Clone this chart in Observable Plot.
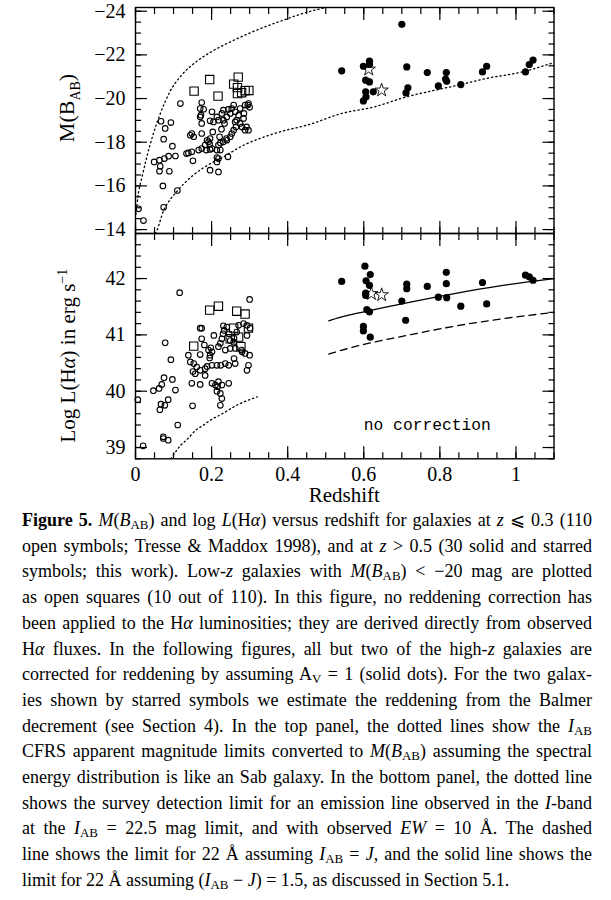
<!DOCTYPE html>
<html><head><meta charset="utf-8">
<script src="https://cdn.jsdelivr.net/npm/d3@7"></script>
<script src="https://cdn.jsdelivr.net/npm/@observablehq/plot@0.6"></script>
<style>
html,body{margin:0;padding:0;background:#fff;}
#chart{position:relative;width:611px;height:505px;}
#chart svg{position:absolute;left:0;top:0;}
#caption{position:absolute;left:22px;top:508px;width:570px;font-family:"Liberation Serif","Times New Roman",serif;font-size:18px;line-height:25.7px;color:#000;}
#caption .l{white-space:nowrap;text-align:justify;text-align-last:justify;}
#caption .last{text-align-last:left;}
#caption sub{font-size:0.72em;vertical-align:-0.22em;line-height:0;font-style:normal;}
</style></head>
<body>
<div id="chart"></div>
<div id="caption">
<div class="l"><b>Figure 5.</b> <i>M</i>(<i>B</i><sub>AB</sub>) and log <i>L</i>(H<i>α</i>) versus redshift for galaxies at <i>z</i> ⩽ 0.3 (110</div>
<div class="l">open symbols; Tresse &amp; Maddox 1998), and at <i>z</i> &gt; 0.5 (30 solid and starred</div>
<div class="l">symbols; this work). Low-<i>z</i> galaxies with <i>M</i>(<i>B</i><sub>AB</sub>) &lt; −20 mag are plotted</div>
<div class="l">as open squares (10 out of 110). In this figure, no reddening correction has</div>
<div class="l">been applied to the H<i>α</i> luminosities; they are derived directly from observed</div>
<div class="l">H<i>α</i> fluxes. In the following figures, all but two of the high-<i>z</i> galaxies are</div>
<div class="l">corrected for reddening by assuming A<sub>V</sub> = 1 (solid dots). For the two galax-</div>
<div class="l">ies shown by starred symbols we estimate the reddening from the Balmer</div>
<div class="l">decrement (see Section 4). In the top panel, the dotted lines show the <i>I</i><sub>AB</sub></div>
<div class="l">CFRS apparent magnitude limits converted to <i>M</i>(<i>B</i><sub>AB</sub>) assuming the spectral</div>
<div class="l">energy distribution is like an Sab galaxy. In the bottom panel, the dotted line</div>
<div class="l">shows the survey detection limit for an emission line observed in the <i>I</i>-band</div>
<div class="l">at the <i>I</i><sub>AB</sub> = 22.5 mag limit, and with observed <i>EW</i> = 10 Å. The dashed</div>
<div class="l">line shows the limit for 22 Å assuming <i>I</i><sub>AB</sub> = <i>J</i>, and the solid line shows the</div>
<div class="l last">limit for 22 Å assuming (<i>I</i><sub>AB</sub> − <i>J</i>) = 1.5, as discussed in Section 5.1.</div>
</div>
<script>
// ---------- axes ----------
const xMajor = [0, 0.2, 0.4, 0.6, 0.8, 1];
const xLabels = ["0", "0.2", "0.4", "0.6", "0.8", "1"];
const mMajor = [-24, -22, -20, -18, -16, -14];
const mLabels = ["−24", "−22", "−20", "−18", "−16", "−14"];
const lMajor = [39, 40, 41, 42];
const lLabels = ["39", "40", "41", "42"];
const xMinor = d3.range(0, 1.1001, 0.05);
const mMinor = d3.range(-24, -13.99, 0.5);
const lMinor = d3.range(38.8, 42.81, 0.2);

// ---------- top panel: [redshift, M(B_AB)] ----------
const topOpen = [
[0.008,-14.95],[0.021,-14.41],[0.074,-15.02],[0.072,-16.00],[0.110,-15.79],
[0.049,-17.10],[0.063,-17.18],[0.065,-16.90],[0.076,-17.25],[0.063,-16.67],[0.089,-16.67],[0.087,-17.36],
[0.074,-18.14],[0.078,-18.63],[0.067,-18.96],[0.093,-18.90],[0.097,-17.82],[0.105,-17.37],[0.118,-19.77],
[0.174,-19.82],[0.170,-19.54],[0.179,-19.51],[0.201,-19.39],[0.170,-19.16],[0.196,-18.98],[0.205,-18.93],[0.174,-18.86],
[0.214,-19.16],[0.218,-19.01],[0.227,-19.32],[0.231,-19.47],[0.244,-19.50],[0.253,-19.54],[0.258,-19.70],[0.249,-19.32],
[0.240,-19.16],[0.231,-19.01],[0.234,-18.86],[0.262,-19.39],[0.271,-19.24],[0.275,-19.54],[0.266,-19.01],[0.288,-19.70],
[0.297,-19.77],[0.285,-19.32],[0.284,-19.09],[0.262,-18.93],[0.275,-18.86],[0.280,-18.70],[0.297,-18.55],[0.288,-18.55],
[0.258,-18.55],[0.253,-18.40],[0.249,-18.25],[0.240,-18.09],[0.231,-18.02],[0.223,-17.97],[0.218,-17.87],[0.214,-17.64],
[0.223,-17.64],[0.214,-17.30],[0.218,-17.25],[0.214,-17.10],[0.196,-16.72],[0.218,-16.64],[0.186,-17.64],[0.196,-17.67],
[0.188,-18.09],[0.192,-18.02],[0.196,-18.17],[0.195,-17.91],[0.183,-17.87],[0.144,-18.32],[0.153,-18.25],[0.148,-18.40],
[0.174,-18.40],[0.166,-17.64],[0.174,-17.71],[0.148,-17.56],[0.139,-17.51],[0.151,-17.15],[0.201,-17.71],[0.221,-18.25],
[0.172,-19.24],[0.203,-18.47],[0.134,-17.48],[0.243,-17.33],[0.295,-19.70],[0.239,-18.17],
[0.264,-18.70],[0.292,-18.70],[0.300,-19.60],[0.226,-18.60]
];
const topSquares = [
[0.195,-20.87],[0.154,-20.34],[0.217,-20.11],[0.270,-20.98],[0.258,-20.66],
[0.268,-20.50],[0.268,-20.23],[0.279,-20.27],[0.288,-20.36],[0.298,-20.37]
];
const topSolid = [
[0.542,-21.27],[0.599,-21.48],[0.615,-21.71],[0.615,-21.56],[0.605,-20.84],[0.615,-20.76],
[0.605,-20.31],[0.625,-20.31],[0.606,-20.08],[0.599,-19.89],[0.700,-23.40],[0.713,-21.45],
[0.716,-20.49],[0.711,-20.26],[0.767,-21.19],[0.817,-21.19],[0.815,-20.89],[0.818,-20.79],
[0.796,-20.58],[0.855,-20.64],[0.912,-21.22],[0.923,-21.48],[1.025,-21.22],[1.035,-21.56],[1.045,-21.76]
];
const topStars = [[0.613,-21.34],[0.647,-20.38]];
const topLimitBright = [
[0.001,-14.7],[0.008,-15.7],[0.017,-16.4],[0.030,-17.35],[0.048,-18.45],[0.065,-19.3],[0.090,-20.3],
[0.120,-21.05],[0.157,-21.65],[0.200,-22.15],[0.250,-22.6],[0.300,-23.0],[0.382,-23.55],[0.450,-23.95],[0.500,-24.17]
];
const topLimitFaint = [
[0.052,-13.82],[0.056,-13.95],[0.074,-14.88],[0.090,-15.35],[0.109,-15.75],[0.130,-16.15],[0.153,-16.51],
[0.190,-16.95],[0.223,-17.25],[0.284,-17.86],[0.371,-18.43],[0.464,-18.85],[0.538,-19.3],[0.628,-19.62],
[0.713,-20.08],[0.792,-20.40],[0.855,-20.64],[0.914,-20.89],[1.023,-21.25],[1.1,-21.65]
];

// ---------- bottom panel: [redshift, log L(Halpha)] ----------
const bottomOpen = [
[0.116,41.75],[0.300,41.63],[0.078,40.86],[0.093,40.56],[0.047,40.01],[0.062,40.05],[0.069,40.12],[0.075,40.24],
[0.097,40.21],[0.105,40.02],[0.006,39.85],[0.064,39.67],[0.067,39.77],[0.077,39.75],[0.086,39.85],[0.111,39.40],
[0.073,39.19],[0.073,39.16],[0.086,39.13],[0.020,39.03],[0.150,39.74],
[0.170,41.12],[0.174,41.12],[0.231,41.16],[0.233,41.08],[0.230,41.02],[0.271,41.17],[0.284,41.20],[0.293,41.17],
[0.301,41.12],[0.240,41.14],[0.293,40.99],[0.174,40.93],[0.227,40.93],[0.249,40.90],[0.258,40.87],[0.181,40.82],
[0.198,40.77],[0.192,40.73],[0.201,40.70],[0.223,40.85],[0.218,40.79],[0.236,40.73],[0.249,40.76],[0.262,40.76],
[0.279,40.73],[0.288,40.67],[0.170,40.65],[0.196,40.64],[0.195,40.59],[0.139,40.64],[0.144,40.52],[0.153,40.49],
[0.161,40.43],[0.170,40.37],[0.183,40.40],[0.151,40.35],[0.157,40.31],[0.201,40.46],[0.214,40.46],[0.224,40.46],
[0.236,40.49],[0.245,40.46],[0.262,40.49],[0.297,40.46],[0.293,40.37],[0.183,40.28],[0.148,40.14],[0.170,40.12],
[0.201,40.14],[0.210,40.11],[0.218,40.17],[0.216,40.08],[0.227,40.11],[0.245,40.14],[0.214,40.00],[0.223,39.96],
[0.227,39.87],[0.223,39.75],[0.259,40.58],[0.280,40.70],[0.300,40.64],[0.259,40.94],[0.206,40.99],[0.266,41.05],
[0.246,41.02],[0.188,40.44]
];
const bottomSquares = [
[0.195,41.44],[0.218,41.51],[0.266,41.42],[0.288,41.37],[0.258,41.12],
[0.297,41.12],[0.271,40.96],[0.153,40.80],[0.277,40.79],[0.249,40.93]
];
const bottomSolid = [
[0.542,41.95],[0.603,42.22],[0.617,42.07],[0.606,41.96],[0.615,41.88],[0.605,41.74],[0.605,41.70],
[0.608,41.45],[0.615,41.41],[0.599,41.15],[0.599,41.07],[0.617,40.96],[0.700,41.60],[0.713,41.90],
[0.713,41.82],[0.710,41.26],[0.767,41.86],[0.796,41.67],[0.817,42.11],[0.817,41.91],[0.818,41.66],
[0.855,41.51],[0.912,41.93],[0.923,41.55],[1.025,42.06],[1.035,42.03],[1.045,41.97]
];
const bottomStars = [[0.620,41.73],[0.647,41.71]];
const haDotted = [
[0.093,38.8],[0.100,38.87],[0.120,39.05],[0.135,39.14],[0.157,39.30],[0.179,39.40],[0.200,39.50],
[0.223,39.58],[0.266,39.75],[0.320,39.90]
];
const haSolid = [[0.508,41.25],[0.538,41.31],[0.600,41.41],[0.713,41.57],[0.835,41.73],[0.958,41.87],[1.1,42.0]];
const haDashed = [[0.508,40.66],[0.538,40.72],[0.600,40.83],[0.713,40.99],[0.835,41.15],[0.958,41.28],[1.1,41.40]];
const annotations = [{z: 0.767, v: 39.4, text: "no correction"}];

// ---------- helpers ----------
const X = d => d[0], Y = d => d[1];
const FONT = "Liberation Serif, Times New Roman, serif";
function ticks4(xv, yv, len, sw) {
  const o = {fill: "none", tickSize: len, strokeWidth: sw, label: null};
  return [
    Plot.axisX(xv, {...o, anchor: "bottom", dy: -len}),
    Plot.axisX(xv, {...o, anchor: "top", dy: len}),
    Plot.axisY(yv, {...o, anchor: "left", dx: len}),
    Plot.axisY(yv, {...o, anchor: "right", dx: -len})
  ];
}
const dotted = {stroke: "black", strokeWidth: 1.3, strokeDasharray: "1.3,3", curve: "monotone-x", clip: true};
const common = {
  width: 611, marginLeft: 135, marginRight: 57.5,
  x: {domain: [0, 1.1]},
  style: {background: "transparent", overflow: "visible", fontFamily: FONT, color: "black"}
};
const openStyle = {r: 2.8, stroke: "black", fill: "none", strokeWidth: 1.1};
const squareStyle = {symbol: "square", r: 4.7, stroke: "black", fill: "none", strokeWidth: 1.1};
const solidStyle = {r: 3.6, fill: "black", stroke: "none"};
const starStyle = {symbol: "star", r: 4.2, stroke: "black", fill: "none", strokeWidth: 0.9};

const topPlot = Plot.plot({
  ...common, height: 234, marginTop: 7, marginBottom: 1,
  y: {domain: [-13.82, -24.17]},
  marks: [
    ...ticks4(xMinor, mMinor, 6, 1.2),
    ...ticks4(xMajor, mMajor, 12, 1.2),
    Plot.axisY(mMajor, {anchor: "left", tickSize: 0, tickPadding: 10, fontSize: 20, label: null,
      tickFormat: d => mLabels[mMajor.indexOf(d)]}),
    Plot.line(topLimitBright, {x: X, y: Y, ...dotted}),
    Plot.line(topLimitFaint, {x: X, y: Y, ...dotted}),
    Plot.dot(topOpen, {x: X, y: Y, ...openStyle}),
    Plot.dot(topSquares, {x: X, y: Y, ...squareStyle}),
    Plot.dot(topSolid, {x: X, y: Y, ...solidStyle}),
    Plot.dot(topStars, {x: X, y: Y, ...starStyle}),
    Plot.frame({stroke: "black", strokeWidth: 1.4})
  ]
});

const bottomPlot = Plot.plot({
  ...common, height: 505, marginTop: 233, marginBottom: 46.7,
  y: {domain: [38.8, 42.8]},
  marks: [
    ...ticks4(xMinor, lMinor, 6, 1.2),
    ...ticks4(xMajor, lMajor, 12, 1.2),
    Plot.axisY(lMajor, {anchor: "left", tickSize: 0, tickPadding: 10, fontSize: 20, label: null,
      tickFormat: d => lLabels[lMajor.indexOf(d)]}),
    Plot.axisX(xMajor, {anchor: "bottom", tickSize: 0, tickPadding: 8, fontSize: 20, label: null,
      tickFormat: d => xLabels[xMajor.indexOf(d)]}),
    Plot.line(haDotted, {x: X, y: Y, ...dotted}),
    Plot.line(haSolid, {x: X, y: Y, stroke: "black", strokeWidth: 1.3, curve: "monotone-x"}),
    Plot.line(haDashed, {x: X, y: Y, stroke: "black", strokeWidth: 1.3, strokeDasharray: "7,5", curve: "monotone-x"}),
    Plot.dot(bottomOpen, {x: X, y: Y, ...openStyle}),
    Plot.dot(bottomSquares, {x: X, y: Y, ...squareStyle}),
    Plot.dot(bottomSolid, {x: X, y: Y, ...solidStyle}),
    Plot.dot(bottomStars, {x: X, y: Y, ...starStyle}),
    Plot.text(annotations, {x: "z", y: "v", text: "text", fontFamily: "Liberation Mono, DejaVu Sans Mono, monospace",
      fontSize: 16.3, fill: "black"}),
    Plot.frame({stroke: "black", strokeWidth: 1.4})
  ]
});

const chart = document.getElementById("chart");
chart.appendChild(topPlot);
chart.appendChild(bottomPlot);

// axis titles with sub/superscripts
const xs = bottomPlot.scale("x");
const tys = topPlot.scale("y");
const bys = bottomPlot.scale("y");
const b = d3.select(bottomPlot);
const xMid = (xs.apply(0) + xs.apply(1.1)) / 2;
b.append("text").attr("x", xMid).attr("y", bys.apply(38.8) + 44).attr("text-anchor", "middle")
  .attr("font-family", FONT).attr("font-size", 21).attr("fill", "black").text("Redshift");

const tMid = (tys.apply(-13.82) + tys.apply(-24.17)) / 2 - 12;
const t1 = d3.select(topPlot).append("text")
  .attr("transform", `translate(66,${tMid}) rotate(-90)`).attr("dy", "0.35em")
  .attr("text-anchor", "middle").attr("font-family", FONT).attr("font-size", 22).attr("fill", "black");
t1.append("tspan").text("M(B");
t1.append("tspan").attr("font-size", 14).attr("dy", 6).text("AB");
t1.append("tspan").attr("dy", -6).text(")");

const bMid = (bys.apply(38.8) + bys.apply(42.8)) / 2 + 10;
const t2 = b.append("text")
  .attr("transform", `translate(68,${bMid}) rotate(-90)`).attr("dy", "0.35em")
  .attr("text-anchor", "middle").attr("font-family", FONT).attr("font-size", 21).attr("fill", "black");
t2.append("tspan").text("Log L(H");
t2.append("tspan").attr("font-style", "italic").text("α");
t2.append("tspan").text(") in erg s");
t2.append("tspan").attr("font-size", 14).attr("dy", -8).text("−1");
</script>
</body></html>
